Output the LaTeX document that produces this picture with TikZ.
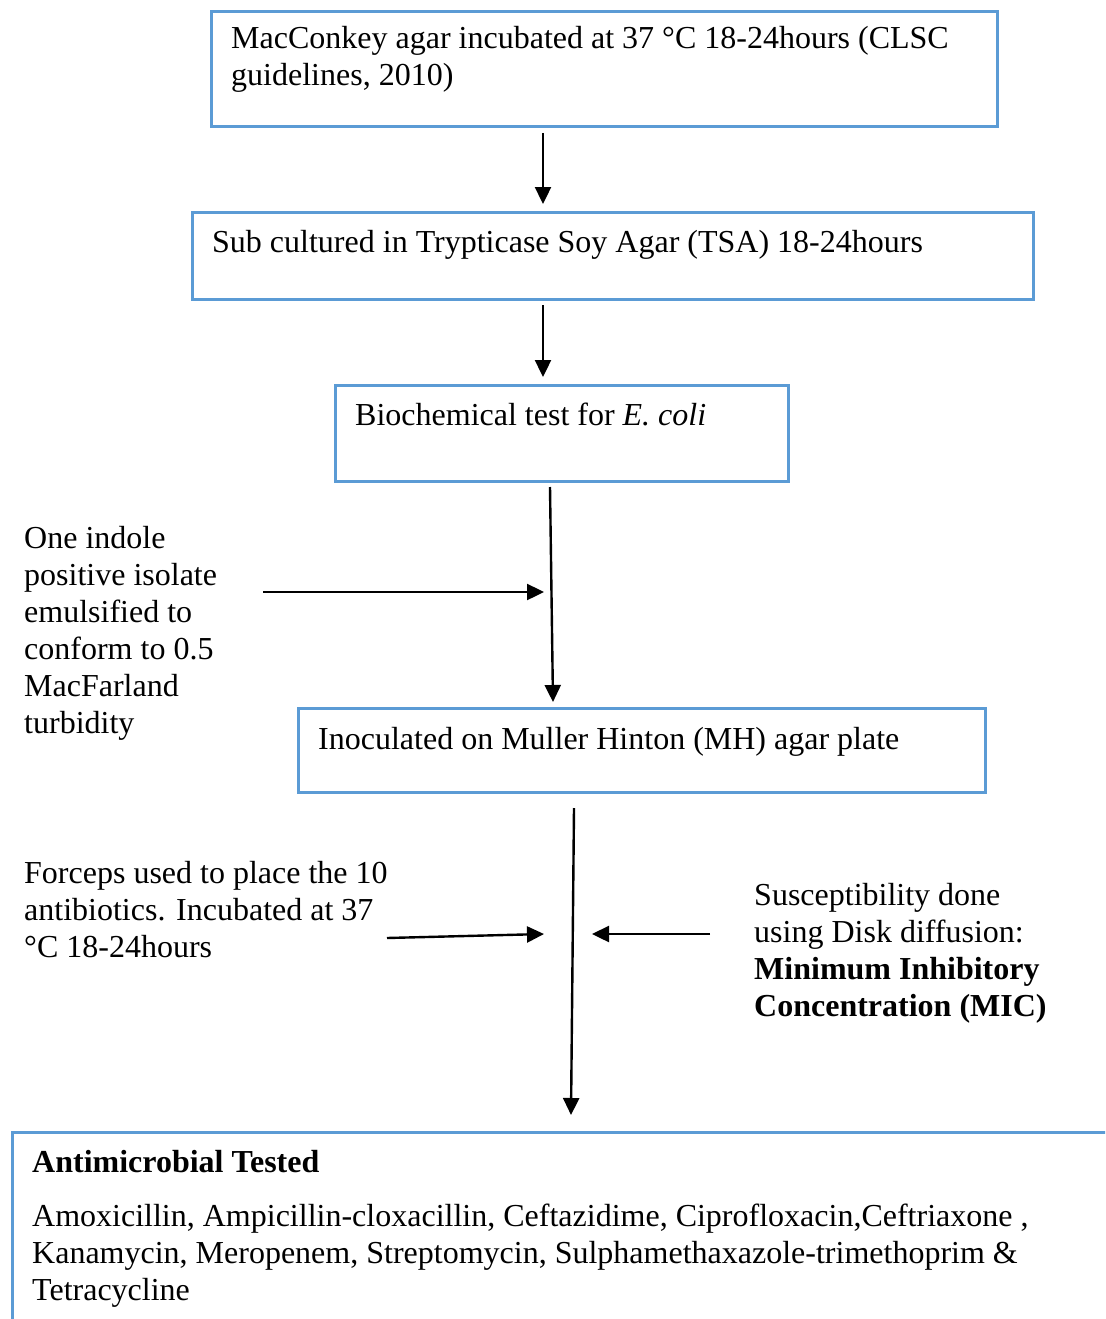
\documentclass[tikz,border=0pt]{standalone}
\usepackage{fontspec}
\setmainfont{Liberation Serif}
\usetikzlibrary{arrows.meta}
\definecolor{boxblue}{RGB}{91,155,213}
\begin{document}
\begin{tikzpicture}[x=1pt,y=-1pt,
  box/.style={draw=boxblue,line width=2.6pt,rectangle,inner sep=0pt,anchor=north west},
  txt/.style={inner sep=0pt,align=left,anchor=base west,font=\fontsize{32}{37}\selectfont},
  arr/.style={line width=2.4pt,-{Triangle[length=17pt,width=16pt]}}]
\clip (0,0) rectangle (1105,1319);
\fill[white] (0,0) rectangle (1105,1319);
% boxes
\node[box,minimum width=786pt,minimum height=115pt] (b1) at (210,10) {};
\node[box,minimum width=841pt,minimum height=87pt] (b2) at (191,211) {};
\node[box,minimum width=453pt,minimum height=96pt] (b3) at (334,384) {};
\node[box,minimum width=687pt,minimum height=84pt] (b4) at (297,707) {};
\node[box,minimum width=1120pt,minimum height=220pt] (b5) at (11,1131) {};
% texts (base = last line baseline)
\node[txt] (t1) at (231,86) {MacConkey agar incubated at 37 °C 18-24hours (CLSC\\guidelines, 2010)};
\node[txt] (t2) at (212,252) {Sub cultured in Trypticase Soy Agar (TSA) 18-24hours};
\node[txt] (t3) at (355,425) {Biochemical test for \textit{E. coli}};
\node[txt] (t4) at (318,749) {Inoculated on Muller Hinton (MH) agar plate};
\node[txt] (t5) at (32,1172) {\textbf{Antimicrobial Tested}};
\node[txt] (t6) at (32,1300) {Amoxicillin, Ampicillin-cloxacillin, Ceftazidime, Ciprofloxacin,Ceftriaxone ,\\Kanamycin, Meropenem, Streptomycin, Sulphamethaxazole-trimethoprim \&\\Tetracycline};
\node[txt] (s1) at (24,733) {One indole\\positive isolate\\emulsified to\\conform to 0.5\\MacFarland\\turbidity};
\node[txt] (s2) at (24,957) {Forceps used to place the 10\\antibiotics. Incubated at 37\\°C 18-24hours};
\node[txt] (s3) at (754,1016) {Susceptibility done\\using Disk diffusion:\\\textbf{Minimum Inhibitory}\\\textbf{Concentration (MIC)}};
% connector end points
\coordinate (a1s) at (543,133); \coordinate (a1e) at (543,204);
\coordinate (a2s) at (543,305); \coordinate (a2e) at (543,377);
\coordinate (a3s) at (550,487); \coordinate (a3e) at (553,702);
\coordinate (a4s) at (263,592); \coordinate (a4e) at (544,592);
\coordinate (a5s) at (574,808); \coordinate (a5e) at (571,1115);
\coordinate (a6s) at (387,938); \coordinate (a6e) at (544,934);
\coordinate (a7s) at (710,934); \coordinate (a7e) at (592,934);
\draw[arr] (a1s) -- (a1e);
\draw[arr] (a2s) -- (a2e);
\draw[arr] (a3s) -- (a3e);
\draw[arr] (a4s) -- (a4e);
\draw[arr] (a5s) -- (a5e);
\draw[arr] (a6s) -- (a6e);
\draw[arr] (a7s) -- (a7e);
\end{tikzpicture}
\end{document}
